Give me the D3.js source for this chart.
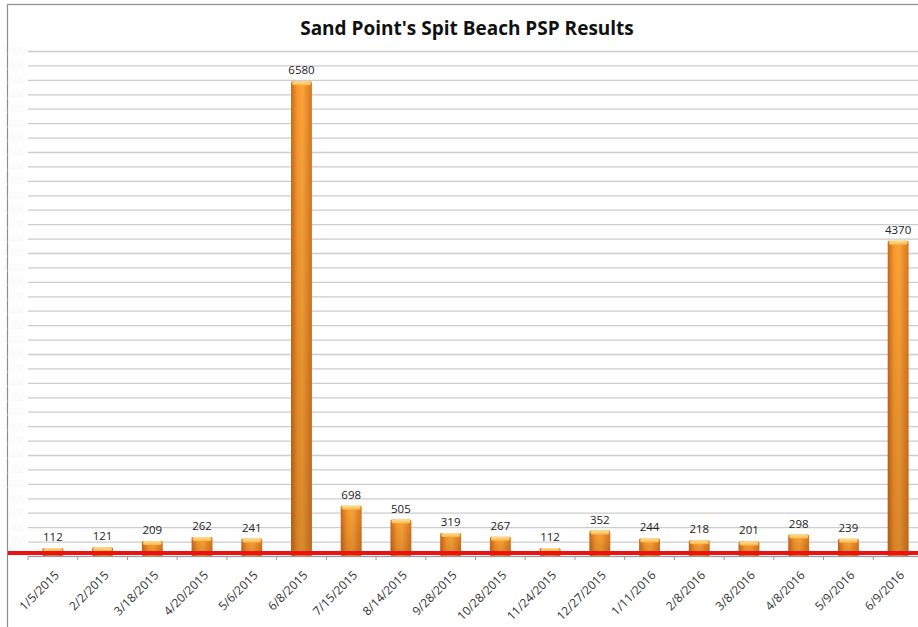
<!DOCTYPE html>
<html>
<head>
<meta charset="utf-8">
<script src="https://cdn.jsdelivr.net/npm/d3@7"></script>
<style>
  body { margin: 0; background: #fff; }
  svg { display: block; }
</style>
</head>
<body>
<svg id="chart" width="918" height="627"></svg>
<script>
const titleText = "Sand Point's Spit Beach PSP Results";
const sampleDates = ["1/5/2015", "2/2/2015", "3/18/2015", "4/20/2015", "5/6/2015", "6/8/2015",
    "7/15/2015", "8/14/2015", "9/28/2015", "10/28/2015", "11/24/2015", "12/27/2015",
    "1/11/2016", "2/8/2016", "3/8/2016", "4/8/2016", "5/9/2016", "6/9/2016"];
const pspValues = [112, 121, 209, 262, 241, 6580, 698, 505, 319, 267, 112, 352, 244, 218, 201, 298, 239, 4370];
const yMax = 7000;
const limitValue = 40;

const svg = d3.select("#chart");
const margin = { top: 51, left: 28, bottom: 71 };
const plotRight = 923;
const height = +svg.attr("height") - margin.top - margin.bottom;

const x = d3.scaleBand()
    .domain(sampleDates)
    .range([margin.left, plotRight])
    .paddingInner(0.58)
    .paddingOuter(0.29);

const y = d3.scaleLinear()
    .domain([0, yMax])
    .range([margin.top + height, margin.top]);

// gradients for the cylinder-like bars
const defs = svg.append("defs");
const side = defs.append("linearGradient").attr("id", "barSide")
    .attr("x1", "0").attr("x2", "1").attr("y1", "0").attr("y2", "0");
side.append("stop").attr("offset", "0").attr("stop-color", "#c7671b");
side.append("stop").attr("offset", "0.3").attr("stop-color", "#f89a2e");
side.append("stop").attr("offset", "0.55").attr("stop-color", "#fba43a");
side.append("stop").attr("offset", "1").attr("stop-color", "#d7761f");

const shade = defs.append("linearGradient").attr("id", "barShade")
    .attr("x1", "0").attr("x2", "0").attr("y1", "0").attr("y2", "1");
shade.append("stop").attr("offset", "0").attr("stop-color", "#5a2a00").attr("stop-opacity", 0);
shade.append("stop").attr("offset", "1").attr("stop-color", "#5a2a00").attr("stop-opacity", 0.22);

const cap = defs.append("linearGradient").attr("id", "barCap")
    .attr("x1", "0").attr("x2", "0").attr("y1", "0").attr("y2", "1");
cap.append("stop").attr("offset", "0").attr("stop-color", "#fde08e");
cap.append("stop").attr("offset", "1").attr("stop-color", "#fbb54a");

// chart frame
svg.append("rect")
    .attr("x", 7.5).attr("y", 4.5)
    .attr("width", 930).attr("height", 640)
    .attr("fill", "#fff")
    .attr("stroke", "#8c8c8c")
    .attr("stroke-width", 1.2);

// gridlines and (almost invisible) value axis
const yAxis = svg.append("g")
    .attr("class", "y-axis")
    .attr("transform", "translate(" + margin.left + ",0)")
    .call(d3.axisLeft(y).ticks(35).tickSize(-(plotRight - margin.left)).tickPadding(3));
yAxis.select(".domain").remove();
yAxis.selectAll(".tick line")
    .attr("stroke", "#cccccc")
    .attr("stroke-width", 1.3);
yAxis.selectAll(".tick text")
    .attr("fill", "#f6f6f6")
    .style("font-family", "'Open Sans', sans-serif")
    .style("font-size", "9px");

// bars
const bars = svg.append("g").selectAll("g")
    .data(pspValues)
    .enter().append("g");

bars.append("rect")
    .attr("x", (d, i) => x(sampleDates[i]))
    .attr("y", d => y(d))
    .attr("width", x.bandwidth())
    .attr("height", d => y(0) - y(d))
    .attr("rx", 1.5)
    .attr("fill", "url(#barSide)");

bars.append("rect")
    .attr("x", (d, i) => x(sampleDates[i]))
    .attr("y", d => y(d))
    .attr("width", x.bandwidth())
    .attr("height", d => y(0) - y(d))
    .attr("fill", "url(#barShade)");

bars.append("rect")
    .attr("x", (d, i) => x(sampleDates[i]) + 1)
    .attr("y", d => y(d))
    .attr("width", x.bandwidth() - 2)
    .attr("height", 4)
    .attr("rx", 2)
    .attr("fill", "url(#barCap)");

// category axis
const xAxis = svg.append("g")
    .attr("class", "x-axis")
    .attr("transform", "translate(0," + y(0) + ")")
    .call(d3.axisBottom(x).tickSize(0).tickPadding(0));
xAxis.select(".domain")
    .attr("stroke", "#9a9a9a")
    .attr("stroke-width", 1.2);
xAxis.selectAll(".tick text")
    .attr("text-anchor", "end")
    .attr("fill", "#333")
    .attr("y", 0)
    .attr("dy", "0.35em")
    .style("font-family", "'Open Sans', sans-serif")
    .style("font-size", "12px")
    .attr("transform", "translate(4,17) rotate(-45)");

// boundary tick marks between categories
svg.append("g").selectAll("line")
    .data(sampleDates)
    .enter().append("line")
    .attr("x1", d => x(d) - x.step() * x.paddingInner() / 2)
    .attr("x2", d => x(d) - x.step() * x.paddingInner() / 2)
    .attr("y1", y(0))
    .attr("y2", y(0) + 4)
    .attr("stroke", "#9a9a9a");

// red limit line
svg.append("line")
    .attr("x1", 8)
    .attr("x2", 918)
    .attr("y1", y(limitValue))
    .attr("y2", y(limitValue))
    .attr("stroke", "#ee1111")
    .attr("stroke-width", 4);

// value labels
svg.append("g").selectAll("text")
    .data(pspValues)
    .enter().append("text")
    .attr("x", (d, i) => x(sampleDates[i]) + x.bandwidth() / 2)
    .attr("y", d => y(d) - 7)
    .attr("text-anchor", "middle")
    .attr("fill", "#222")
    .style("font-family", "'Open Sans', sans-serif")
    .style("font-size", "11.5px")
    .text(d => d);

// title
svg.append("text")
    .attr("x", 467)
    .attr("y", 35)
    .attr("text-anchor", "middle")
    .attr("fill", "#111")
    .style("font-family", "'Open Sans', sans-serif")
    .style("font-weight", "bold")
    .style("font-size", "19px")
    .text(titleText);
</script>
</body>
</html>
